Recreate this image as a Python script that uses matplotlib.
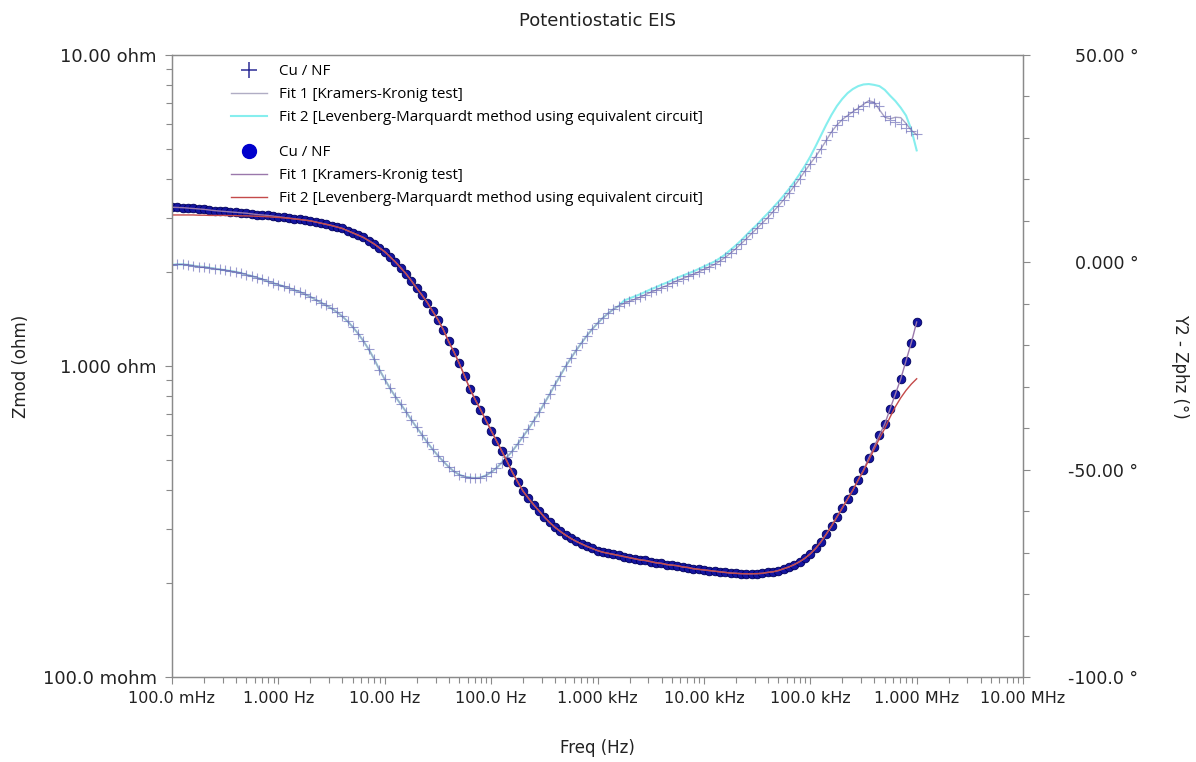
import numpy as np
import matplotlib
matplotlib.use("Agg")
import matplotlib.pyplot as plt
from matplotlib.ticker import FixedLocator, NullFormatter, LogLocator
from matplotlib.lines import Line2D

# frequency sweep: 0.1 Hz .. 1 MHz, 20 points per decade
freq = np.logspace(-1, 6, 141)

# |Z| (ohm)
zmod = [3.24, 3.235, 3.23, 3.22, 3.21, 3.20, 3.19, 3.175, 3.16, 3.15,
        3.14, 3.13, 3.12, 3.11, 3.10, 3.085, 3.07, 3.06, 3.05, 3.035,
        3.02, 3.005, 2.99, 2.975, 2.96, 2.945, 2.93, 2.905, 2.88, 2.855,
        2.83, 2.80, 2.77, 2.725, 2.68, 2.635, 2.59, 2.53, 2.47, 2.40,
        2.33, 2.245, 2.16, 2.07, 1.98, 1.88, 1.78, 1.69, 1.60, 1.50,
        1.41, 1.31, 1.20, 1.11, 1.02, 0.93, 0.845, 0.78, 0.724, 0.67,
        0.62, 0.575, 0.533, 0.493, 0.455, 0.424, 0.396, 0.376, 0.358, 0.342,
        0.327, 0.314, 0.303, 0.294, 0.286, 0.279, 0.273, 0.268, 0.263, 0.259,
        0.255, 0.252, 0.250, 0.248, 0.246, 0.244, 0.242, 0.240, 0.238, 0.237,
        0.235, 0.233, 0.232, 0.230, 0.229, 0.228, 0.226, 0.225, 0.223, 0.222,
        0.221, 0.220, 0.219, 0.218, 0.217, 0.216, 0.2155, 0.215, 0.2148, 0.2148,
        0.215, 0.2155, 0.217, 0.218, 0.220, 0.223, 0.226, 0.230, 0.235, 0.241,
        0.249, 0.259, 0.272, 0.288, 0.306, 0.327, 0.349, 0.373, 0.399, 0.430,
        0.463, 0.506, 0.550, 0.600, 0.651, 0.728, 0.813, 0.908, 1.04, 1.19,
        1.385]

# Kramers-Kronig fit lies on the data
fit1_zmod = list(zmod)

# equivalent circuit fit (red)
fit2_zmod = [3.06, 3.06, 3.06, 3.06, 3.06, 3.055, 3.055, 3.05, 3.05, 3.05,
             3.05, 3.045, 3.045, 3.04, 3.04, 3.035, 3.03, 3.025, 3.02, 3.01,
             3.005, 2.995, 2.985, 2.97, 2.96, 2.945, 2.93, 2.905, 2.88, 2.855,
             2.83, 2.80, 2.77, 2.725, 2.68, 2.635, 2.59, 2.53, 2.47, 2.40,
             2.33, 2.245, 2.16, 2.07, 1.98, 1.88, 1.78, 1.69, 1.60, 1.50,
             1.41, 1.31, 1.20, 1.11, 1.02, 0.93, 0.845, 0.78, 0.724, 0.67,
             0.62, 0.575, 0.533, 0.493, 0.455, 0.424, 0.396, 0.376, 0.358, 0.342,
             0.327, 0.314, 0.303, 0.294, 0.286, 0.279, 0.273, 0.268, 0.263, 0.259,
             0.255, 0.252, 0.250, 0.248, 0.246, 0.244, 0.242, 0.240, 0.238, 0.237,
             0.235, 0.233, 0.232, 0.230, 0.229, 0.228, 0.226, 0.225, 0.223, 0.222,
             0.221, 0.220, 0.219, 0.218, 0.217, 0.216, 0.2155, 0.215, 0.2148, 0.2148,
             0.215, 0.2155, 0.217, 0.218, 0.220, 0.223, 0.226, 0.230, 0.235, 0.241,
             0.249, 0.259, 0.272, 0.288, 0.306, 0.327, 0.349, 0.373, 0.399, 0.430,
             0.460, 0.498, 0.540, 0.585, 0.630, 0.685, 0.740, 0.790, 0.835, 0.875,
             0.910]

# phase (deg)
phase = [-0.6, -0.5, -0.5, -0.6, -0.8, -1.0, -1.1, -1.3, -1.5, -1.7,
         -1.9, -2.1, -2.3, -2.6, -3.0, -3.3, -3.7, -4.1, -4.6, -5.0,
         -5.4, -5.8, -6.2, -6.7, -7.1, -7.7, -8.3, -9.0, -9.7, -10.4,
         -11.1, -12.0, -13.0, -14.2, -15.6, -17.2, -19.0, -21.0, -23.3, -25.9,
         -28.2, -30.4, -32.4, -34.2, -36.0, -38.0, -39.8, -41.6, -43.4, -45.1,
         -46.6, -48.0, -49.3, -50.4, -51.2, -51.7, -51.9, -52.0, -51.9, -51.4,
         -50.6, -49.6, -48.3, -46.9, -45.5, -43.8, -42.0, -40.2, -38.2, -36.2,
         -34.0, -31.8, -29.5, -27.3, -25.1, -23.1, -21.2, -19.4, -17.7, -16.1,
         -14.7, -13.4, -12.3, -11.3, -10.5, -9.9, -9.4, -8.9, -8.4, -7.8,
         -7.2, -6.7, -6.1, -5.6, -5.0, -4.4, -3.9, -3.4, -2.9, -2.3,
         -1.7, -1.1, -0.5, 0.3, 1.2, 2.2, 3.3, 4.5, 5.7, 7.0,
         8.2, 9.5, 10.8, 12.2, 13.6, 15.1, 16.7, 18.4, 20.2, 22.0,
         23.8, 25.5, 27.4, 29.4, 31.5, 33.1, 34.4, 35.4, 36.3, 37.0,
         37.8, 38.6, 38.5, 37.6, 35.4, 34.3, 33.9, 33.4, 32.5, 31.7,
         30.9]

fit1_phase = [-0.6, -0.5, -0.5, -0.6, -0.8, -1.0, -1.1, -1.3, -1.5, -1.7,
              -1.9, -2.1, -2.3, -2.6, -3.0, -3.3, -3.7, -4.1, -4.6, -5.0,
              -5.4, -5.8, -6.2, -6.7, -7.1, -7.7, -8.3, -9.0, -9.7, -10.4,
              -11.1, -12.0, -13.0, -14.2, -15.6, -17.2, -19.0, -21.0, -23.3, -25.9,
              -28.2, -30.4, -32.4, -34.2, -36.0, -38.0, -39.8, -41.6, -43.4, -45.1,
              -46.6, -48.0, -49.3, -50.4, -51.2, -51.7, -51.9, -52.0, -51.9, -51.4,
              -50.6, -49.6, -48.3, -46.9, -45.5, -43.8, -42.0, -40.2, -38.2, -36.2,
              -34.0, -31.8, -29.5, -27.3, -25.1, -23.1, -21.2, -19.4, -17.7, -16.1,
              -14.7, -13.4, -12.3, -11.3, -10.5, -9.9, -9.4, -8.9, -8.4, -7.8,
              -7.2, -6.7, -6.1, -5.6, -5.0, -4.4, -3.9, -3.4, -2.9, -2.3,
              -1.7, -1.1, -0.5, 0.3, 1.2, 2.2, 3.3, 4.5, 5.7, 7.0,
              8.2, 9.5, 10.8, 12.2, 13.6, 15.1, 16.7, 18.4, 20.2, 22.0,
              23.8, 25.5, 27.4, 29.4, 31.5, 33.1, 34.4, 35.4, 36.3, 37.2,
              38.1, 39.0, 38.6, 36.8, 35.0, 34.6, 35.0, 34.9, 33.5, 31.8,
              30.8]

fit2_phase = [-0.6, -0.5, -0.5, -0.6, -0.8, -1.0, -1.1, -1.3, -1.5, -1.7,
              -1.9, -2.1, -2.3, -2.6, -3.0, -3.3, -3.7, -4.1, -4.6, -5.0,
              -5.4, -5.8, -6.2, -6.7, -7.1, -7.7, -8.3, -9.0, -9.7, -10.4,
              -11.1, -12.0, -13.0, -14.2, -15.6, -17.2, -19.0, -21.0, -23.3, -25.9,
              -28.2, -30.4, -32.4, -34.2, -36.0, -38.0, -39.8, -41.6, -43.4, -45.1,
              -46.6, -48.0, -49.3, -50.4, -51.2, -51.7, -51.9, -52.0, -51.9, -51.4,
              -50.6, -49.6, -48.3, -46.9, -45.5, -43.8, -42.0, -40.2, -38.2, -36.2,
              -34.0, -31.8, -29.5, -27.3, -25.1, -23.1, -21.2, -19.4, -17.7, -16.1,
              -14.7, -13.4, -12.3, -11.3, -10.5, -9.2, -8.7, -8.2, -7.7, -7.1,
              -6.5, -6.0, -5.4, -4.9, -4.3, -3.7, -3.2, -2.7, -2.2, -1.6,
              -1.0, -0.4, 0.2, 1.0, 1.9, 3.0, 4.1, 5.3, 6.6, 7.9,
              9.1, 10.5, 11.8, 13.2, 14.6, 16.1, 17.7, 19.4, 21.3, 23.3,
              25.5, 28.0, 30.6, 33.2, 35.6, 37.7, 39.4, 40.8, 41.8, 42.5,
              42.9, 43.0, 42.8, 42.5, 41.6, 40.2, 38.9, 37.3, 35.4, 32.0,
              27.0]

# axis ticks / labels
x_ticks = [1e-1, 1e0, 1e1, 1e2, 1e3, 1e4, 1e5, 1e6, 1e7]
x_labels = ["100.0 mHz", "1.000 Hz", "10.00 Hz", "100.0 Hz", "1.000 kHz",
            "10.00 kHz", "100.0 kHz", "1.000 MHz", "10.00 MHz"]
y_ticks = [0.1, 1.0, 10.0]
y_labels = ["100.0 mohm", "1.000 ohm", "10.00 ohm"]
y2_ticks = [-100, -50, 0, 50]
y2_labels = ["-100.0 °", "-50.00 °", "0.000 °", "50.00 °"]

plt.rcParams["font.family"] = "DejaVu Sans"
gray = "#8a8a8a"
txt = "#222222"

fig = plt.figure(figsize=(11.96, 7.62), dpi=100)
ax = fig.add_axes([0.1438, 0.1115, 0.7116, 0.8163])
ax2 = ax.twinx()
# keep the |Z| markers on top of the phase curves
ax.set_zorder(ax2.get_zorder() + 1)
ax.patch.set_visible(False)

# phase (right axis)
ax2.plot(freq, fit2_phase, color="#86eeee", lw=1.5, zorder=2)
ax2.plot(freq, fit1_phase, color="#a9a3c4", lw=1.0, zorder=3)
ax2.plot(freq, phase, linestyle="none", marker="+", markersize=6.5,
         markeredgewidth=0.8, color="#5a5ab0", alpha=0.6, zorder=4)

# |Z| (left axis)
ax.plot(freq, zmod, linestyle="none", marker="o", markersize=6.2,
        markerfacecolor="#1414a0", markeredgecolor="#00005a",
        markeredgewidth=0.6)
ax.plot(freq, fit1_zmod, color="#9a78ab", lw=1.0)
ax.plot(freq, fit2_zmod, color="#c44a4a", lw=1.0)

ax.set_xscale("log")
ax.set_yscale("log")
ax.set_xlim(1e-1, 1e7)
ax.set_ylim(0.1, 10)
ax2.set_ylim(-100, 50)

ax.set_xticks(x_ticks)
ax.set_xticklabels(x_labels, fontsize=11.5)
ax.xaxis.set_minor_locator(LogLocator(base=10, subs=np.arange(2, 10)))
ax.xaxis.set_minor_formatter(NullFormatter())
ax.set_yticks(y_ticks)
ax.set_yticklabels(y_labels, fontsize=13)
ax.yaxis.set_minor_locator(LogLocator(base=10, subs=np.arange(2, 10)))
ax.yaxis.set_minor_formatter(NullFormatter())

ax2.set_yticks(y2_ticks)
ax2.set_yticklabels(y2_labels, fontsize=12.5, ha="right")
ax2.yaxis.set_minor_locator(FixedLocator(np.arange(-100, 51, 10)))

for a in (ax, ax2):
    a.tick_params(which="both", direction="out", color=gray, width=0.8)
    a.tick_params(which="major", length=5, labelcolor=txt)
    a.tick_params(which="minor", length=4.5)
    for s in a.spines.values():
        s.set_color(gray)
        s.set_linewidth(0.9)
ax.tick_params(axis="y", which="major", pad=6)
ax.tick_params(axis="x", which="major", pad=5)
ax2.tick_params(axis="y", which="major", pad=78)

ax.set_title("Potentiostatic EIS", fontsize=13, color=txt, pad=21)
ax.set_xlabel("Freq (Hz)", fontsize=12, color=txt)
ax.xaxis.set_label_coords(0.5, -0.100)
ax.set_ylabel("Zmod (ohm)", fontsize=12, color=txt)
ax.yaxis.set_label_coords(-0.167, 0.5)
ax2.set_ylabel("Y2 - Zphz (°)", fontsize=12, color=txt, rotation=270,
               va="center")
ax2.yaxis.set_label_coords(1.185, 0.5)

# legends (phase group above, |Z| group below)
h_phase = [Line2D([], [], ls="none", marker="+", color="#2c2c96", markersize=11, mew=1.1),
           Line2D([], [], color="#b0adc4", lw=1.0),
           Line2D([], [], color="#86eeee", lw=1.5)]
h_zmod = [Line2D([], [], ls="none", marker="o", color="#0000cc", markersize=10),
          Line2D([], [], color="#9a78ab", lw=1.0),
          Line2D([], [], color="#c44a4a", lw=1.0)]
names = ["Cu / NF", "Fit 1 [Kramers-Kronig test]",
         "Fit 2 [Levenberg-Marquardt method using equivalent circuit]"]
leg_kw = dict(loc="upper left", frameon=False, borderpad=0,
              borderaxespad=0, handlelength=2.4, handletextpad=0.8,
              labelspacing=0.53, prop={"family": "Open Sans", "size": 10.9})
leg1 = ax.legend(h_phase, names, bbox_to_anchor=(0.069, 0.985), **leg_kw)
ax.add_artist(leg1)
ax.legend(h_zmod, names, bbox_to_anchor=(0.069, 0.855), **leg_kw)

fig.savefig("out.png", dpi=100)
